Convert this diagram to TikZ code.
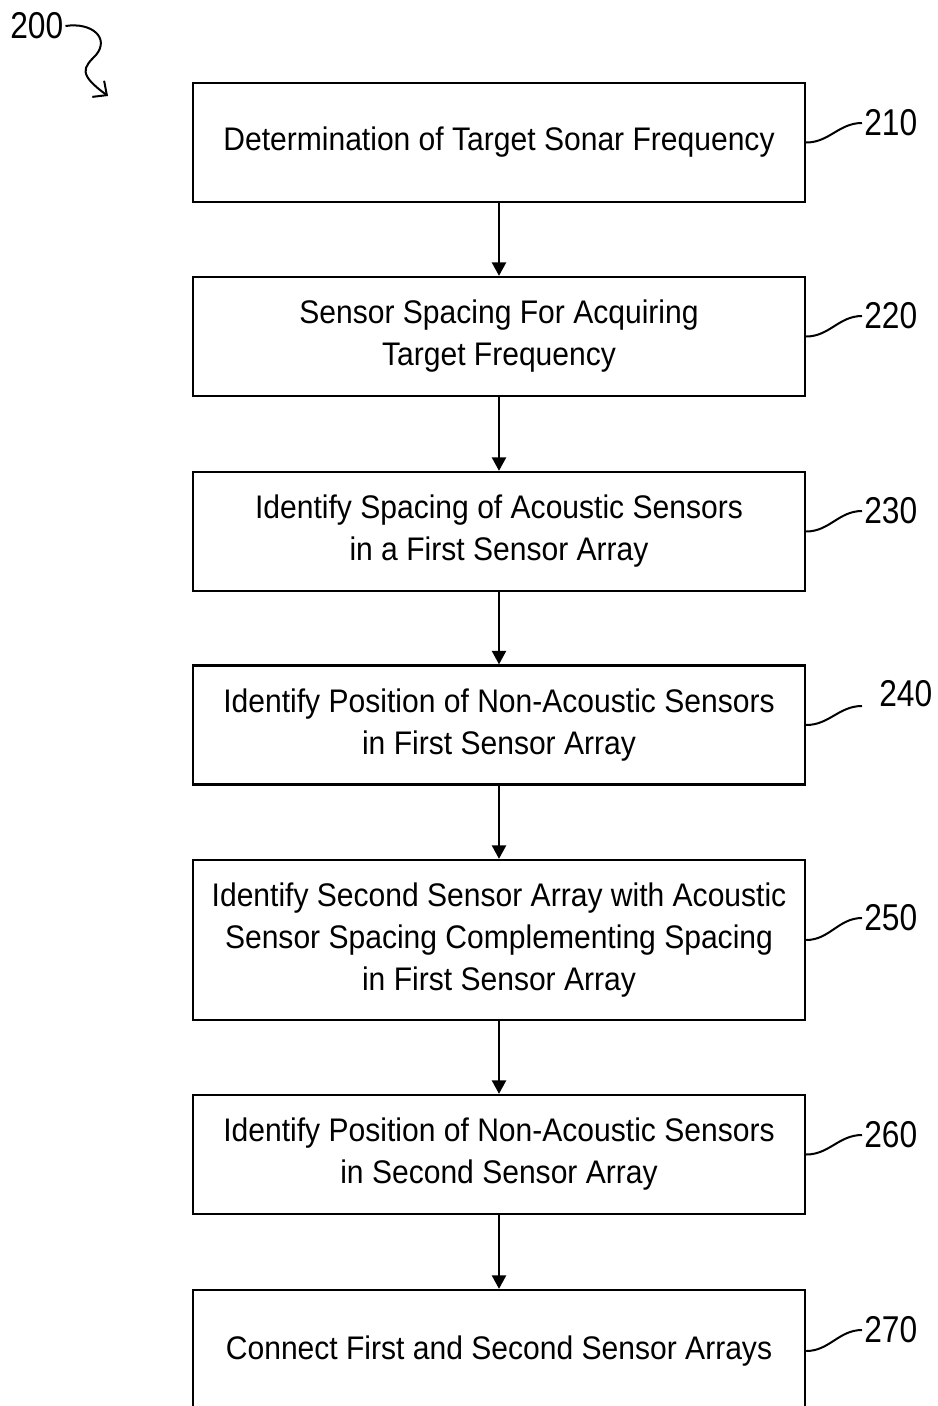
\documentclass[tikz,border=0pt]{standalone}
\usepackage{fontspec}
\setmainfont[FakeStretch=0.92]{Liberation Sans}
\newfontfamily\numfont[FakeStretch=0.85]{Liberation Sans}
\usetikzlibrary{arrows.meta}

\begin{document}
\begin{tikzpicture}[x=0.75pt,y=0.75pt,yscale=-1,xscale=1,
    stepbox/.style={draw, line width=1.8pt, minimum width=459pt, minimum height=89.25pt, inner sep=0pt, align=center, font=\fontsize{24.5}{31.5}\selectfont},
    flow/.style={line width=1.5pt, -{Triangle[width=10.5pt,length=10pt]}},
    leader/.style={line width=1.5pt},
    refnum/.style={anchor=west, inner sep=1.5pt, font=\numfont\fontsize{28}{30}\selectfont}]
        \useasboundingbox (0,0) rectangle (938,1406);

        %Shape: Rectangle
        \node [stepbox] (freq) at (499,142.5) {Determination of Target Sonar Frequency};
        %Shape: Rectangle
        \node [stepbox] (spacing) at (499,336.5) {Sensor Spacing For Acquiring\\Target Frequency};
        %Shape: Rectangle
        \node [stepbox] (firstac) at (499,531.5) {Identify Spacing of Acoustic Sensors\\in a First Sensor Array};
        %Shape: Rectangle
        \node [stepbox] (firstnon) at (499,725) {Identify Position of Non-Acoustic Sensors\\in First Sensor Array};
        %Shape: Rectangle
        \node [stepbox, minimum height=120pt] (second) at (499,940) {Identify Second Sensor Array with Acoustic\\Sensor Spacing Complementing Spacing\\in First Sensor Array};
        %Shape: Rectangle
        \node [stepbox] (secondnon) at (499,1154.5) {Identify Position of Non-Acoustic Sensors\\in Second Sensor Array};
        %Shape: Rectangle
        \node [stepbox, minimum height=91.5pt] (connect) at (499,1351) {Connect First and Second Sensor Arrays};

        %Straight Lines
        \draw [flow] (freq) -- (spacing);
        \draw [flow] (spacing) -- (firstac);
        \draw [flow] (firstac) -- (firstnon);
        \draw [flow] (firstnon) -- (second);
        \draw [flow] (second) -- (secondnon);
        \draw [flow] (secondnon) -- (connect);

        % Text Node
        \node [refnum] (n200) at (8,26) {200};
        % Text Node
        \node [refnum] (n210) at (862,123) {210};
        % Text Node
        \node [refnum] (n220) at (862,316) {220};
        % Text Node
        \node [refnum] (n230) at (862,511) {230};
        % Text Node
        \node [refnum] (n240) at (877,694) {240};
        % Text Node
        \node [refnum] (n250) at (862,918) {250};
        % Text Node
        \node [refnum] (n260) at (862,1135) {260};
        % Text Node
        \node [refnum] (n270) at (862,1330) {270};

        \coordinate (e240) at (862,706);
        \coordinate (tip200) at (108,96);

        %Curve Lines
        \draw [leader, -{Straight Barb[length=8pt,width=15pt]}] (n200.east) .. controls (92,22) and (110,38) .. (96,55) .. controls (83,68) and (78,74) .. (tip200);
        %Curve Lines
        \draw [leader] (freq.east) to [out=0,in=180] (n210.west);
        \draw [leader] (spacing.east) to [out=0,in=180] (n220.west);
        \draw [leader] (firstac.east) to [out=0,in=180] (n230.west);
        \draw [leader] (firstnon.east) to [out=0,in=180] (e240);
        \draw [leader] (second.east) to [out=0,in=180] (n250.west);
        \draw [leader] (secondnon.east) to [out=0,in=180] (n260.west);
        \draw [leader] (connect.east) to [out=0,in=180] (n270.west);

\end{tikzpicture}
\end{document}
